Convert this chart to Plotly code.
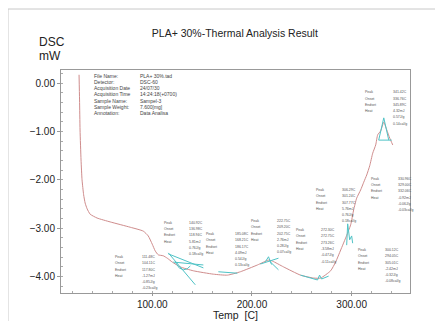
import plotly.graph_objects as go

# ---- main DSC curve (Temp [C], DSC [mW]) ----
temp = [26.6, 27.1, 27.6, 28.6, 29.6, 31.2, 32.7, 34.7, 37.7, 44.7, 57.8, 77.9, 91.0, 96.0,
        100.0, 103.0, 106.0, 111.0, 115.1, 120.1, 128.1, 141.2, 161.3, 175.4, 188.4, 205.5,
        216.6, 220.6, 231.7, 248.7, 261.8, 268.8, 278.9, 283.9, 289.0, 294.0, 299.0, 302.0,
        305.0, 309.0, 312.1, 315.1, 318.1, 321.1, 324.1, 326.1, 329.1, 332.2, 335.2, 338.2, 341.2]
dsc = [0.17, -0.35, -0.97, -1.59, -2.00, -2.31, -2.48, -2.60, -2.71, -2.79, -2.87, -2.98, -3.06, -3.16,
       -3.33, -3.47, -3.55, -3.57, -3.62, -3.70, -3.80, -3.88, -3.95, -3.97, -3.90, -3.76,
       -3.66, -3.68, -3.80, -3.97, -4.03, -4.03, -3.88, -3.70, -3.45, -3.20, -2.93, -2.62,
       -2.38, -2.21, -2.05, -1.90, -1.71, -1.45, -1.28, -1.07, -0.99, -0.81, -0.97, -1.14, -1.28]

# ---- analysis (tangent / baseline) lines ----
tan_a_t = [116.1, 143.2]; tan_a_y = [-3.51, -4.17]
tan_b_t = [116.1, 151.3]; tan_b_y = [-3.53, -3.82]
tan_c_t = [121.1, 151.3]; tan_c_y = [-3.70, -3.76]
dip_t = [123.1, 127.0, 131.2, 135.0, 138.2]; dip_y = [-3.70, -3.82, -3.86, -3.84, -3.78]
base_min_t = [166.3, 185.4]; base_min_y = [-3.90, -3.93]
pk1_t = [208.5, 226.6]; pk1_y = [-3.74, -3.62]
pk2_t = [213.6, 216.6, 219.6]; pk2_y = [-3.69, -3.59, -3.75]
pk3_t = [217.6, 226.6]; pk3_y = [-3.68, -3.86]
min2_t = [248.7, 258.8, 265.8, 267.8, 269.8, 276.9]; min2_y = [-3.97, -4.03, -4.07, -3.97, -4.05, -3.99]
bump_t = [295.0, 296.0, 298.0, 300.0, 301.0]; bump_y = [-3.35, -2.91, -3.24, -3.16, -3.31]
top_t = [327.1, 332.2, 337.2]; top_y = [-1.18, -0.72, -1.18]
topb_t = [327.1, 340.2]; topb_y = [-1.18, -1.18]

# ---- axis ticks ----
x_ticks = [100, 200, 300]
y_ticks = [0, -1, -2, -3, -4]

# ---- texts ----
info_labels = ["File Name:", "Detector:", "Acquisition Date", "Acquisition Time",
               "Sample Name:", "Sample Weight:", "Annotation:"]
info_values = ["PLA+ 30%.tad", "DSC-60", "24/07/30", "14:24:18(+0700)",
               "Sampel-3", "7.600[mg]", "Data Analisa"]
block_labels = ["Peak", "Onset", "Endset", "Heat"]
block_values = [
    ["111.48C", "104.11C", "117.80C", "-1.27mJ", "-0.85J/g", "-0.23cal/g"],
    ["140.92C", "136.98C", "118.94C", "5.81mJ", "0.76J/g", "0.18cal/g"],
    ["185.08C", "168.21C", "186.17C", "4.09mJ", "0.54J/g", "0.13cal/g"],
    ["222.75C", "209.20C", "202.75C", "2.76mJ", "0.28J/g", "0.07cal/g"],
    ["272.30C", "272.75C", "273.26C", "-3.58mJ", "-0.47J/g", "-0.11cal/g"],
    ["306.29C", "301.24C", "307.77C", "5.76mJ", "0.76J/g", "0.18cal/g"],
    ["330.96C", "329.00C", "332.06C", "-0.92mJ", "-0.06J/g", "-0.03cal/g"],
    ["300.12C", "294.05C", "305.01C", "-2.42mJ", "-0.32J/g", "-0.08cal/g"],
    ["341.42C", "336.76C", "345.89C", "4.32mJ", "0.57J/g", "0.14cal/g"],
]
# positions of the text blocks (label column x, value column x, first line y)
block_pos = [(60.8, 88.0, -3.595), (110.1, 135.2, -2.89), (151.8, 180.9, -3.12),
             (197.0, 223.1, -2.85), (242.2, 267.3, -3.04), (262.3, 288.4, -2.21),
             (317.1, 344.2, -1.98), (304.0, 331.2, -3.45), (311.1, 339.3, -0.19)]

CURVE = "#cf8c8c"
CYAN = "#4fc3c6"
FONT = "Arial, Liberation Sans, sans-serif"

fig = go.Figure()
fig.add_trace(go.Scatter(x=temp, y=dsc, mode="lines",
                         line=dict(color=CURVE, width=1, shape="spline", smoothing=0.5),
                         hoverinfo="skip", showlegend=False))
for tx, ty in [(tan_a_t, tan_a_y), (tan_b_t, tan_b_y), (tan_c_t, tan_c_y), (dip_t, dip_y),
               (base_min_t, base_min_y), (pk1_t, pk1_y), (pk2_t, pk2_y), (pk3_t, pk3_y),
               (min2_t, min2_y), (bump_t, bump_y), (top_t, top_y), (topb_t, topb_y)]:
    fig.add_trace(go.Scatter(x=tx, y=ty, mode="lines", line=dict(color=CYAN, width=1),
                             hoverinfo="skip", showlegend=False))

ann = []
# info block
for i, (lab, val) in enumerate(zip(info_labels, info_values)):
    yy = 0.15 - i * 0.128
    ann.append(dict(x=39.7, y=yy, xref="x", yref="y", text=lab, showarrow=False,
                    xanchor="left", yanchor="middle", font=dict(size=5, color="#444", family=FONT)))
    ann.append(dict(x=85.9, y=yy, xref="x", yref="y", text=val, showarrow=False,
                    xanchor="left", yanchor="middle", font=dict(size=5, color="#444", family=FONT)))
# peak blocks
for (lx, vx, y0), vals in zip(block_pos, block_values):
    for i, lab in enumerate(block_labels):
        ann.append(dict(x=lx, y=y0 - i * 0.13, xref="x", yref="y", text=lab, showarrow=False,
                        xanchor="left", yanchor="middle", font=dict(size=3.5, color="#555", family=FONT)))
    for i, v in enumerate(vals):
        ann.append(dict(x=vx, y=y0 - i * 0.13, xref="x", yref="y", text=v, showarrow=False,
                        xanchor="left", yanchor="middle", font=dict(size=3.5, color="#555", family=FONT)))
# axis titles
ann.append(dict(x=-0.0688, y=1.124, xref="paper", yref="paper", text="DSC", showarrow=False,
                xanchor="left", yanchor="middle", font=dict(size=12, color="#222", family=FONT)))
ann.append(dict(x=-0.0688, y=1.062, xref="paper", yref="paper", text="mW", showarrow=False,
                xanchor="left", yanchor="middle", font=dict(size=12, color="#222", family=FONT)))
ann.append(dict(x=0.4986, y=-0.097, xref="paper", yref="paper", text="Temp  [C]", showarrow=False,
                xanchor="center", yanchor="middle", font=dict(size=10.5, color="#222", family=FONT)))

shapes = [
    dict(type="line", xref="paper", yref="paper", x0=-0.1519, x1=-0.1519, y0=-0.13, y1=1.2735,
         line=dict(color="#c8c8c8", width=1)),
    dict(type="line", xref="paper", yref="paper", x0=-0.1519, x1=1.1, y0=1.2735, y1=1.2735,
         line=dict(color="#c8c8c8", width=1)),
]

# page is shown with an 8px body margin, so the figure is laid out 8px up/left
fig.update_layout(
    width=443, height=321,
    margin=dict(l=53, r=41, t=62, b=36),
    paper_bgcolor="white", plot_bgcolor="white",
    title=dict(text="PLA+ 30%-Thermal Analysis Result", x=0.512, y=0.922, xref="container",
               yref="container", xanchor="center", yanchor="middle",
               font=dict(size=10.5, color="#222", family=FONT)),
    annotations=ann, shapes=shapes, showlegend=False,
    xaxis=dict(range=[8.5, 358.5], tickvals=x_ticks, tickformat=".2f", showgrid=False,
               zeroline=False, showline=True, linecolor="#999", linewidth=1, mirror=True,
               ticks="outside", ticklen=2, tickcolor="#999",
               minor=dict(dtick=20, tick0=0, ticks="inside", ticklen=2, tickcolor="#aaa", showgrid=False),
               tickfont=dict(size=10, color="#222", family=FONT)),
    yaxis=dict(range=[-4.339, 0.269], tickvals=y_ticks, tickformat=".2f", showgrid=False,
               zeroline=False, showline=True, linecolor="#999", linewidth=1, mirror=True,
               ticks="outside", ticklen=3, tickcolor="#999",
               minor=dict(dtick=0.2, tick0=0, ticks="inside", ticklen=2, tickcolor="#aaa", showgrid=False),
               tickfont=dict(size=10, color="#222", family=FONT)),
)

fig.write_html("out.html")
